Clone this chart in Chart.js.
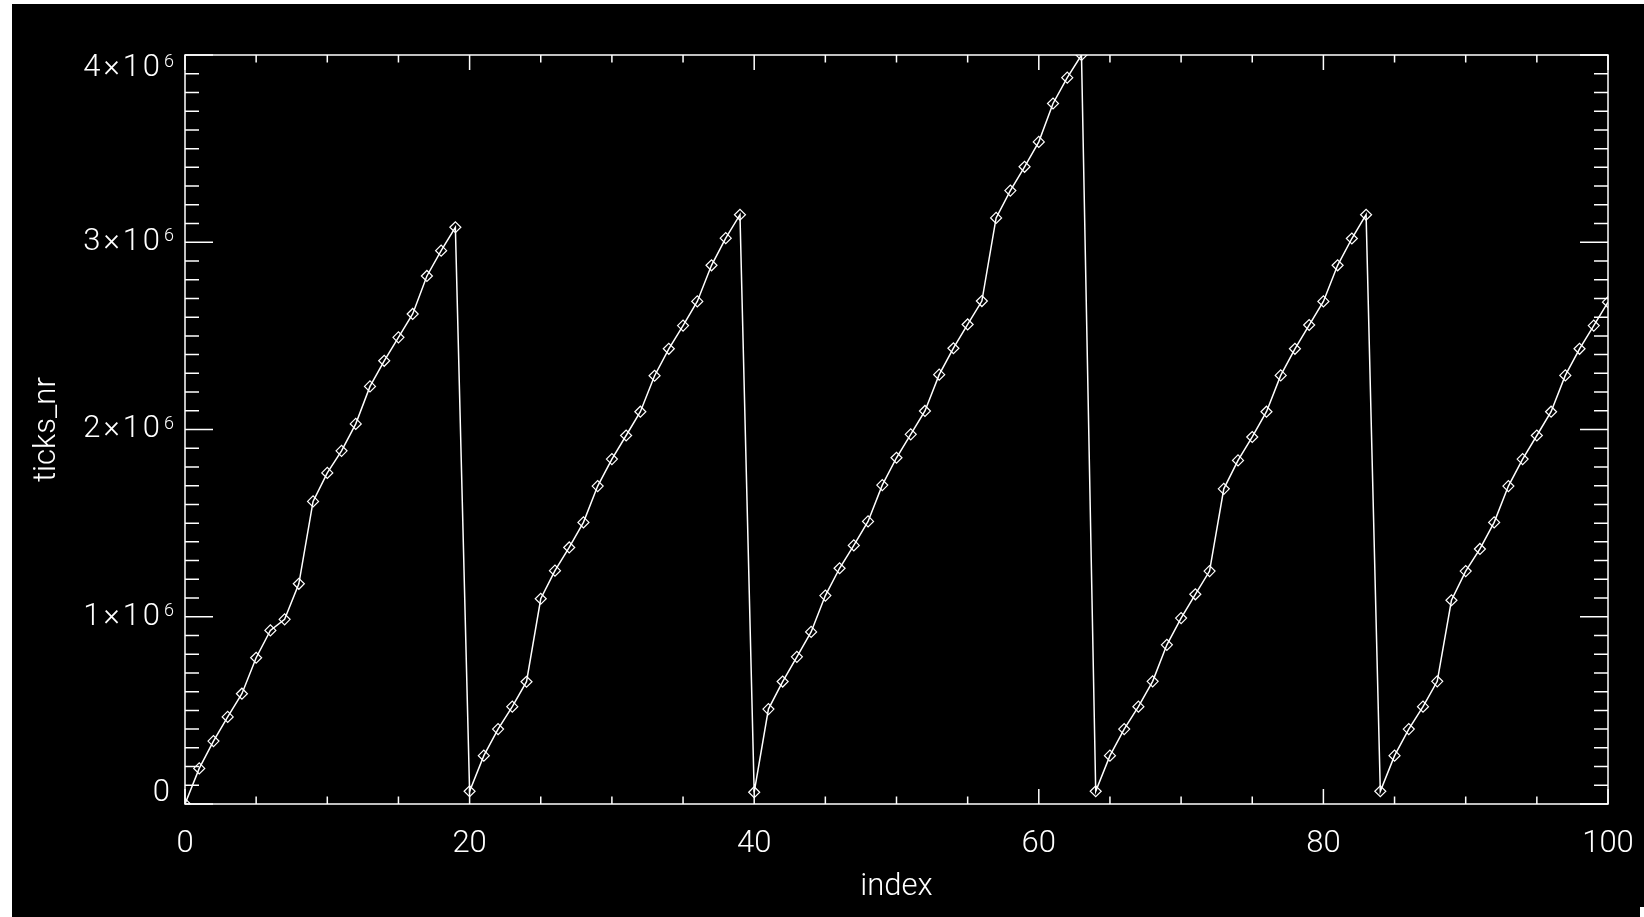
<html>
<head>
<script src="https://cdn.jsdelivr.net/npm/chart.js@4.4.0/dist/chart.umd.min.js"></script>
<style>
  body { margin: 0; background: #ffffff; }
  #box { position: absolute; left: 12px; top: 4px; width: 1632px; height: 913px; background: #000000; }
  #corner { position: absolute; left: 1640px; top: 907px; width: 4px; height: 10px; background: #ffffff; }
</style>
</head>
<body>
<div id="box">
  <canvas id="ticksChart" width="1632" height="913"></canvas>
</div>
<div id="corner"></div>

<script>
// ticks_nr, one value per index 0..100
let ticksNr = [
  0, 190000, 336000, 465000, 589000, 781000, 927000, 986000, 1176000, 1616000,
  1768000, 1886000, 2030000, 2230000, 2367000, 2492000, 2617000, 2820000, 2955000, 3080000,
  68000, 258000, 400000, 520000, 653000, 1096000, 1246000, 1370000, 1504000, 1698000,
  1842000, 1968000, 2095000, 2287000, 2431000, 2555000, 2684000, 2877000, 3022000, 3147000,
  63000, 507000, 654000, 786000, 919000, 1113000, 1259000, 1381000, 1509000, 1703000,
  1849000, 1974000, 2099000, 2293000, 2434000, 2561000, 2686000, 3130000, 3276000, 3403000,
  3536000, 3741000, 3879000, 4000000, 68000, 258000, 400000, 520000, 655000, 850000,
  993000, 1120000, 1244000, 1683000, 1835000, 1960000, 2095000, 2289000, 2431000, 2558000,
  2684000, 2877000, 3020000, 3147000, 68000, 258000, 400000, 520000, 655000, 1088000,
  1244000, 1362000, 1504000, 1698000, 1842000, 1968000, 2095000, 2289000, 2431000, 2555000,
  2680000
];

// axis ticks
let xMajor = [0, 20, 40, 60, 80, 100];
let xMinorStep = 5;
let yMajor = [0, 1000000, 2000000, 3000000, 4000000];
let yMinorStep = 100000;

let fontFamily = 'Roboto, "DejaVu Sans", sans-serif';

// IDL style frame: box, inward ticks on all four sides, y labels with exponent
const idlAxes = {
  id: 'idlAxes',
  afterDraw(chart) {
    const ctx = chart.ctx;
    const a = chart.chartArea;
    const xs = chart.scales.x;
    const ys = chart.scales.y;
    ctx.save();
    ctx.strokeStyle = '#ffffff';
    ctx.lineWidth = 1.5;
    ctx.strokeRect(a.left, a.top, a.right - a.left, a.bottom - a.top);

    ctx.beginPath();
    for (let v = 0; v <= 100; v += xMinorStep) {
      let px = xs.getPixelForValue(v);
      let len = xMajor.includes(v) ? 15 : 7.5;
      ctx.moveTo(px, a.bottom); ctx.lineTo(px, a.bottom - len);
      ctx.moveTo(px, a.top); ctx.lineTo(px, a.top + len);
    }
    for (let v = 0; v <= 4000000; v += yMinorStep) {
      let py = ys.getPixelForValue(v);
      let len = yMajor.includes(v) ? 28 : 14;
      ctx.moveTo(a.left, py); ctx.lineTo(a.left + len, py);
      ctx.moveTo(a.right, py); ctx.lineTo(a.right - len, py);
    }
    ctx.stroke();

    // y labels, right aligned next to the axis
    ctx.fillStyle = '#ffffff';
    const xr = a.left - 11;
    yMajor.forEach(function(v) {
      let py = ys.getPixelForValue(v);
      let cy = Math.min(Math.max(py, a.top + 13), a.bottom - 10.5);
      ctx.letterSpacing = '3px';
      if (v === 0) {
        ctx.font = '300 31px ' + fontFamily;
        ctx.textAlign = 'right';
        ctx.textBaseline = 'middle';
        ctx.fillText('0', xr - 1, cy);
        return;
      }
      ctx.font = '300 18px ' + fontFamily;
      ctx.textAlign = 'right';
      ctx.textBaseline = 'alphabetic';
      ctx.letterSpacing = '0px';
      let supW = ctx.measureText('6').width;
      ctx.fillText('6', xr, cy - 1);
      ctx.font = '300 31px ' + fontFamily;
      ctx.textBaseline = 'middle';
      ctx.letterSpacing = '3px';
      ctx.fillText((v / 1000000) + '\u00d710', xr - supW - 1, cy);
    });
    ctx.restore();
  }
};

function createTicksChart(values) {
  let points = values.map(function(v, i) { return { x: i, y: v }; });
  let ctx = document.getElementById('ticksChart');
  new Chart(ctx, {
    type: 'line',
    data: {
      datasets: [{
        label: 'ticks_nr',
        data: points,
        borderColor: '#ffffff',
        borderWidth: 1.5,
        pointStyle: 'rectRot',
        pointRadius: 5.5,
        pointBorderColor: '#ffffff',
        pointBorderWidth: 1.2,
        pointBackgroundColor: 'rgba(0,0,0,0)',
        tension: 0
      }]
    },
    options: {
      responsive: false,
      animation: false,
      devicePixelRatio: 1,
      layout: { padding: { left: 0, top: 51, right: 36, bottom: 0 } },
      plugins: { legend: { display: false }, tooltip: { enabled: false } },
      scales: {
        x: {
          type: 'linear',
          min: 0,
          max: 100,
          grid: { display: false, drawTicks: false },
          border: { display: false },
          ticks: {
            stepSize: 20,
            color: '#ffffff',
            padding: 22,
            maxRotation: 0,
            font: { family: fontFamily, size: 31, weight: '300' }
          },
          title: {
            display: true,
            text: 'index',
            color: '#ffffff',
            padding: { top: 0, bottom: 11 },
            font: { family: fontFamily, size: 31, weight: '300' }
          },
          afterFit: function(scale) {
            scale.height = 113;
            scale.paddingLeft = 0;
            scale.paddingRight = 0;
          }
        },
        y: {
          type: 'linear',
          min: 0,
          max: 4000000,
          grid: { display: false, drawTicks: false },
          border: { display: false },
          ticks: { display: false },
          title: {
            display: true,
            text: 'ticks_nr',
            color: '#ffffff',
            padding: { top: 17, bottom: 0 },
            font: { family: fontFamily, size: 31, weight: '300' }
          },
          afterFit: function(scale) {
            scale.width = 173;
            scale.paddingTop = 0;
            scale.paddingBottom = 0;
          }
        }
      }
    },
    plugins: [idlAxes]
  });
}

createTicksChart(ticksNr);
</script>
</body>
</html>
